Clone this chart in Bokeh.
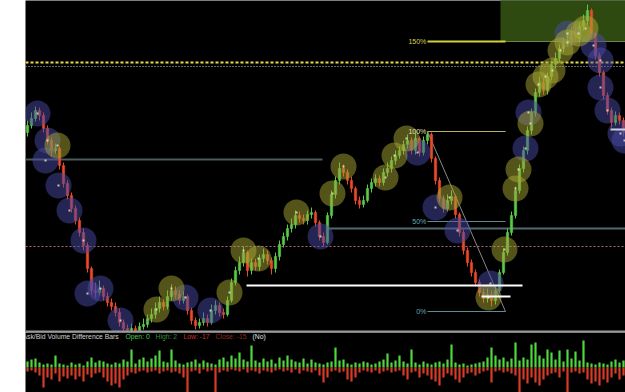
from bokeh.plotting import figure
from bokeh.layouts import column
from bokeh.models import Range1d, Span, ColumnDataSource
from bokeh.core.properties import value
from bokeh.embed import file_html
from bokeh.resources import INLINE

# ---------------- data ----------------
first_open = 200
closes = [207, 214, 222, 217, 204, 192, 182, 184, 167, 149,
          137, 124, 112, 100, 87, 64, 42, 40, 44, 36,
          30, 26, 20, 10, 4, 2, 4, 2, 6, 8,
          14, 18, 24, 30, 26, 36, 42, 38, 32, 36,
          22, 12, 7, 10, 14, 10, 22, 27, 20, 18,
          32, 50, 62, 70, 80, 62, 70, 66, 74, 78,
          72, 64, 76, 88, 96, 104, 108, 117, 114, 112,
          118, 120, 110, 96, 90, 117, 138, 152, 164, 160,
          152, 144, 132, 128, 132, 144, 150, 154, 150, 160,
          164, 172, 177, 182, 188, 192, 182, 194, 180, 192,
          198, 174, 152, 134, 124, 132, 136, 118, 100, 82,
          70, 60, 50, 40, 34, 38, 32, 42, 60, 80,
          100, 117, 142, 164, 182, 202, 220, 240, 250, 242,
          256, 268, 274, 284, 290, 292, 302, 294, 306, 312,
          322, 298, 277, 260, 237, 222, 210, 217, 212, 200]
highs = [212, 220, 226, 225, 220, 207, 195, 189, 186, 170,
         152, 140, 127, 115, 104, 90, 66, 50, 52, 47,
         40, 34, 30, 24, 13, 8, 9, 7, 10, 14,
         18, 24, 30, 36, 33, 42, 48, 46, 42, 41,
         38, 25, 15, 14, 20, 18, 28, 32, 30, 24,
         36, 54, 66, 76, 86, 82, 74, 74, 78, 84,
         82, 75, 80, 92, 100, 108, 114, 122, 121, 118,
         122, 125, 122, 112, 100, 120, 142, 156, 170, 168,
         163, 156, 146, 136, 137, 148, 154, 158, 157, 164,
         170, 176, 182, 186, 192, 198, 195, 199, 196, 196,
         201, 200, 176, 155, 137, 138, 142, 138, 120, 103,
         85, 73, 63, 53, 44, 44, 42, 46, 63, 84,
         104, 121, 146, 168, 186, 206, 224, 244, 256, 254,
         260, 272, 280, 288, 296, 298, 306, 306, 310, 318,
         328, 324, 300, 280, 262, 240, 225, 221, 220, 215]
lows = [196, 204, 211, 212, 200, 188, 176, 179, 163, 145,
        133, 120, 108, 96, 82, 60, 38, 35, 37, 32,
        26, 22, 16, 6, 0, -2, 0, -2, 0, 3,
        5, 10, 14, 20, 22, 23, 32, 34, 28, 29,
        18, 8, 3, 4, 7, 6, 8, 18, 16, 14,
        16, 30, 47, 58, 66, 56, 58, 62, 62, 70,
        68, 58, 60, 72, 85, 92, 100, 104, 110, 108,
        108, 114, 106, 92, 86, 88, 114, 134, 148, 156,
        148, 140, 128, 124, 125, 130, 140, 146, 146, 147,
        156, 160, 168, 174, 178, 184, 178, 178, 176, 177,
        188, 170, 148, 130, 120, 121, 128, 114, 96, 78,
        66, 56, 46, 36, 30, 30, 26, 28, 40, 58,
        77, 97, 114, 139, 160, 178, 198, 216, 236, 238,
        238, 252, 264, 270, 280, 286, 288, 290, 290, 302,
        308, 294, 273, 256, 233, 218, 205, 207, 208, 196]
opens = [first_open] + closes[:-1]
bars = list(range(len(closes)))

# signal circles (bar position, price)
yellow_bar = [7.5, 32.25, 36, 50.5, 54, 57.75, 67.25, 76.25, 79, 89.5,
              91.75, 94.75, 105.5, 115.25, 119.25, 122, 122.75, 125.75, 127.75, 129.5,
              131.25, 133.25, 135, 137.75, 139.5]
yellow_price = [187, 23, 44, 40, 82, 74, 120, 139, 166, 155,
                177, 194, 135, 35, 83, 144, 163, 209, 248, 256,
                262, 282, 290, 299, 304]
blue_bar = [2.5, 5, 4.5, 7.75, 10.5, 14, 15, 18.25, 23.25, 39.5,
            45.75, 73.25, 97.5, 102, 107.5, 115.75, 124.5, 125.25, 135, 141.5,
            143.25, 143.25, 145, 148.25, 149.25]
blue_price = [219, 192, 172, 147, 122, 92, 39, 44, 12, 35,
              22, 96, 180, 125, 102, 49, 184, 220, 299, 287,
              272, 245, 222, 199, 192]

# ask/bid volume difference (per bar high above zero, low below zero)
vol_high = [6, 8, 9, 5, 3, 4, 3, 12, 4, 3,
            2, 5, 3, 4, 2, 6, 10, 5, 7, 6,
            4, 3, 5, 4, 8, 6, 18, 4, 8, 10,
            6, 9, 12, 17, 6, 5, 18, 7, 4, 3,
            5, 6, 8, 4, 7, 5, 4, 3, 8, 10,
            6, 12, 9, 15, 8, 6, 22, 7, 5, 9,
            6, 8, 4, 10, 7, 12, 8, 6, 5, 9,
            4, 8, 5, 4, 3, 5, 6, 20, 7, 8,
            4, 3, 5, 4, 6, 5, 3, 4, 6, 8,
            14, 5, 7, 12, 6, 4, 18, 5, 3, 6,
            4, 3, 5, 6, 4, 8, 23, 5, 3, 4,
            2, 3, 4, 5, 6, 10, 20, 12, 8, 10,
            6, 9, 25, 7, 10, 8, 23, 25, 12, 9,
            18, 15, 8, 17, 6, 18, 9, 16, 7, 27,
            5, 4, 3, 5, 4, 3, 6, 8, 5, 7]
vol_low = [-4, -3, -5, -8, -20, -10, -12, -6, -14, -9,
           -11, -8, -12, -9, -14, -7, -10, -6, -5, -10,
           -14, -18, -16, -20, -12, -8, -5, -6, -4, -3,
           -5, -4, -3, -6, -4, -3, -5, -4, -6, -10,
           -25, -4, -3, -6, -2, -4, -3, -25, -5, -3,
           -4, -2, -3, -4, -2, -5, -3, -4, -6, -3,
           -4, -5, -3, -2, -4, -3, -5, -2, -6, -3,
           -4, -5, -3, -8, -15, -10, -4, -3, -5, -4,
           -12, -14, -10, -5, -3, -4, -5, -3, -6, -4,
           -3, -5, -4, -3, -8, -12, -5, -4, -10, -6,
           -8, -12, -14, -18, -10, -6, -8, -12, -15, -10,
           -6, -5, -8, -6, -4, -3, -15, -4, -3, -5,
           -4, -6, -8, -25, -12, -16, -10, -15, -18, -12,
           -8, -6, -5, -10, -4, -25, -5, -4, -6, -5,
           -12, -16, -14, -18, -12, -15, -10, -6, -12, -8]

# levels
fib_labels = ["150%", "100%", "50%", "0%"]
fib_prices = [291, 201, 111, 21]
fib_start, fib_end = 100, 119.5
swing_high = (100, 201)
swing_low = (119.5, 21)
yellow_dash_level = 270
white_dot_level = 266
pink_dot_level = 86
left_level = 173
left_level_end = 73.75
right_level = 104
right_level_start = 75
white_level = 47
white_level_span = (54.75, 123.75)
white_short_level = 36
white_short_span = (113.5, 120.75)
right_white_level = 203
right_white_start = 145.75
zone_start, zone_low = 118.25, 291

status_parts = ["Ask/Bid Volume Difference Bars", "Open: 0", "High: 2", "Low: -17", "Close: -15", "(No)"]

# ---------------- main chart ----------------
X0, X1 = -0.5, 149.5
p = figure(width=625, height=332, x_range=Range1d(X0, X1), y_range=Range1d(0, 332),
           toolbar_location=None, output_backend="svg",
           x_axis_location=None, y_axis_location=None,
           min_border=0, min_border_left=25,
           background_fill_color="black", border_fill_color="white")
p.grid.visible = False
p.outline_line_color = None

# target zone
p.quad(left=zone_start, right=X1, bottom=zone_low, top=400, fill_color="#2e4a10", line_color=None)
p.segment(x0=zone_start, y0=zone_low, x1=X1, y1=zone_low, line_color="#6f8048", line_width=1)

# level lines
p.segment(x0=X0, y0=yellow_dash_level, x1=X1, y1=yellow_dash_level, line_color="#e8dc50", line_width=2, line_dash="3 2")
p.segment(x0=X0, y0=white_dot_level, x1=X1, y1=white_dot_level, line_color="#cfcfbf", line_width=1, line_dash="1 2")
p.segment(x0=X0, y0=pink_dot_level, x1=X1, y1=pink_dot_level, line_color="#b86a78", line_width=1, line_dash="2 2")
p.segment(x0=X0, y0=left_level, x1=left_level_end, y1=left_level, line_color="#4a5c5e", line_width=2)
p.segment(x0=right_level_start, y0=right_level, x1=X1, y1=right_level, line_color="#4f6a70", line_width=2)

# fib lines
fib_colors = ["#d2d23c", "#b4b45a", "#5c8c96", "#5c8c96"]
fib_widths = [2, 1, 1, 1]
for lv, c, w in zip(fib_prices, fib_colors, fib_widths):
    p.segment(x0=fib_start, y0=lv, x1=fib_end, y1=lv, line_color=c, line_width=w)
p.segment(x0=swing_high[0], y0=swing_high[1], x1=swing_low[0], y1=swing_low[1], line_color="#8a8a8a", line_width=1)

# candles
up_col, dn_col = "#5cc84a", "#e84a2a"
colors = [up_col if c >= o else dn_col for o, c in zip(opens, closes)]
src = ColumnDataSource(dict(x=bars, o=opens, c=closes, h=highs, l=lows, col=colors))
p.segment(x0="x", y0="l", x1="x", y1="h", line_color="col", line_width=1, source=src)
p.vbar(x="x", top="o", bottom="c", width=0.6, fill_color="col", line_color="col", line_width=0.5, source=src)

# circles (translucent, over the candles)
p.scatter(x=blue_bar, y=blue_price, size=26, fill_color="#4a4aa8", fill_alpha=0.5, line_color=None)
p.scatter(x=yellow_bar, y=yellow_price, size=26, fill_color="#a8a834", fill_alpha=0.5, line_color=None)
p.scatter(x=yellow_bar + blue_bar, y=yellow_price + blue_price, size=2, marker="square",
          fill_color="#e8e8c8", fill_alpha=0.8, line_color=None)

# white markers
p.segment(x0=white_level_span[0], y0=white_level, x1=white_level_span[1], y1=white_level, line_color="white", line_width=2)
p.segment(x0=white_short_span[0], y0=white_short_level, x1=white_short_span[1], y1=white_short_level, line_color="white", line_width=2)
p.segment(x0=right_white_start, y0=right_white_level, x1=X1, y1=right_white_level, line_color="#c8d2dc", line_width=2)

p.text(x=[fib_start - 0.3] * 4, y=fib_prices, text=fib_labels,
       text_color=["#d8d050", "#e0e0b0", "#6aa8b8", "#6aa8b8"],
       text_font=value("Liberation Sans"), text_font_size="7px",
       text_align="right", text_baseline="middle")

# separator
p.add_layout(Span(location=1, dimension="width", line_color="#9a9a9a", line_width=2))

# ---------------- lower panel ----------------
q = figure(width=625, height=60, x_range=p.x_range, y_range=Range1d(-25, 35),
           toolbar_location=None, output_backend="svg",
           x_axis_location=None, y_axis_location=None,
           min_border=0, min_border_left=25,
           background_fill_color="black", border_fill_color="white")
q.grid.visible = False
q.outline_line_color = None
q.vbar(x=bars, top=vol_high, bottom=0, width=0.55, fill_color="#4ed83c", line_color=None)
q.vbar(x=bars, top=0, bottom=vol_low, width=0.55, fill_color="#d83c26", line_color=None)

status_x = [-1.25, 24.5, 32, 39, 47, 56.25]
status_colors = ["#d0d0d0", "#4ec84e", "#3a8a3a", "#c83232", "#8e2a22", "#e0e0e0"]
q.text(x=status_x, y=[31] * len(status_parts), text=status_parts, text_color=status_colors,
       text_font=value("Liberation Sans"), text_font_size="6.8px", text_baseline="middle")

layout = column(p, q, spacing=0)
open("out.html", "w").write(file_html(layout, INLINE))
